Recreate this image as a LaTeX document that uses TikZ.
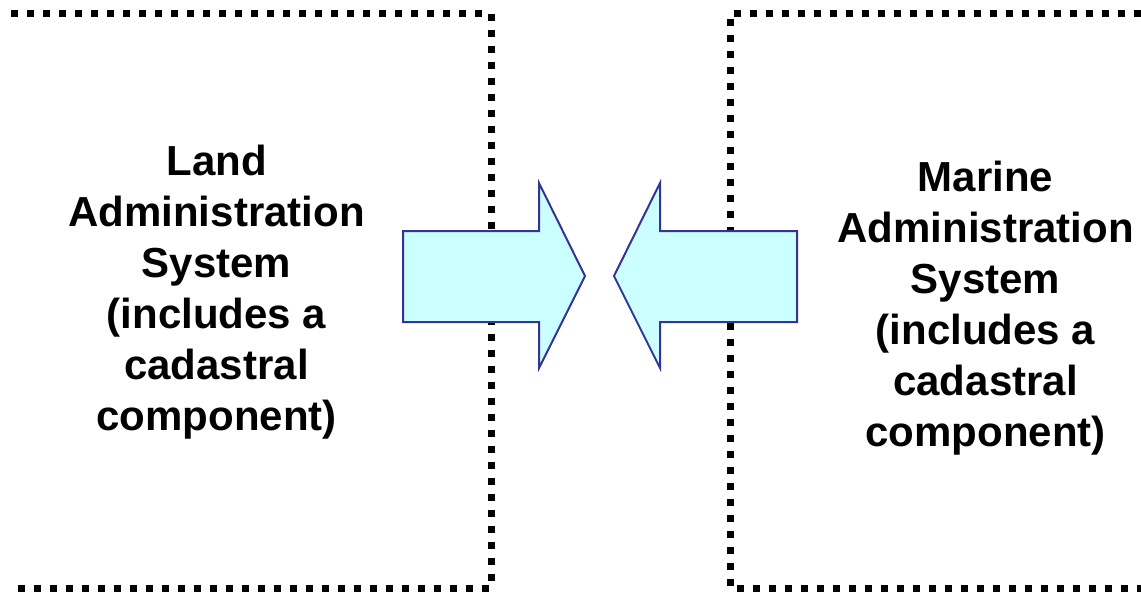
\documentclass[tikz,border=0pt]{standalone}
\usepackage{fontspec}
\setmainfont{Liberation Sans}
\usepackage{tikz}
\usetikzlibrary{arrows.meta,calc,positioning}

\definecolor{arrowfill}{RGB}{204,255,255}
\definecolor{arrowline}{RGB}{51,51,153}

\tikzset{
  dotline/.style={line width=7pt,dash pattern=on 7pt off 9pt},
  bigarrow/.style={fill=arrowfill,draw=arrowline,line width=2pt,line join=miter},
  systext/.style={align=center,font=\fontsize{42}{51}\selectfont\bfseries}
}

\begin{document}
\begin{tikzpicture}[x=1pt,y=-1pt]
  \useasboundingbox (0,0) rectangle (1141,594);
  % box corners
  \coordinate (LT) at (491,14);
  \coordinate (LB) at (491,588);
  \coordinate (RT) at (730,14);
  \coordinate (RB) at (730,588);
  % left and right system frames
  \draw[dotline] (11,14) -- (LT) -- (LB) -- (11,588);
  \draw[dotline] (1141,14) -- (RT) -- (RB) -- (1141,588);
  % arrows pointing at each other
  \draw[bigarrow] (403,231) -- (539,231) -- (539,183) -- (585,276)
    -- (539,368) -- (539,322) -- (403,322) -- cycle;
  \draw[bigarrow] (797,231) -- (660,231) -- (660,183) -- (614,276)
    -- (660,368) -- (660,322) -- (797,322) -- cycle;
  % labels
  \node[systext] (land) at (216.5,292.5) {Land\\Administration\\System\\(includes a\\cadastral\\component)};
  \node[systext] (marine) at (985.5,308) {Marine\\Administration\\System\\(includes a\\cadastral\\component)};
\end{tikzpicture}
\end{document}
